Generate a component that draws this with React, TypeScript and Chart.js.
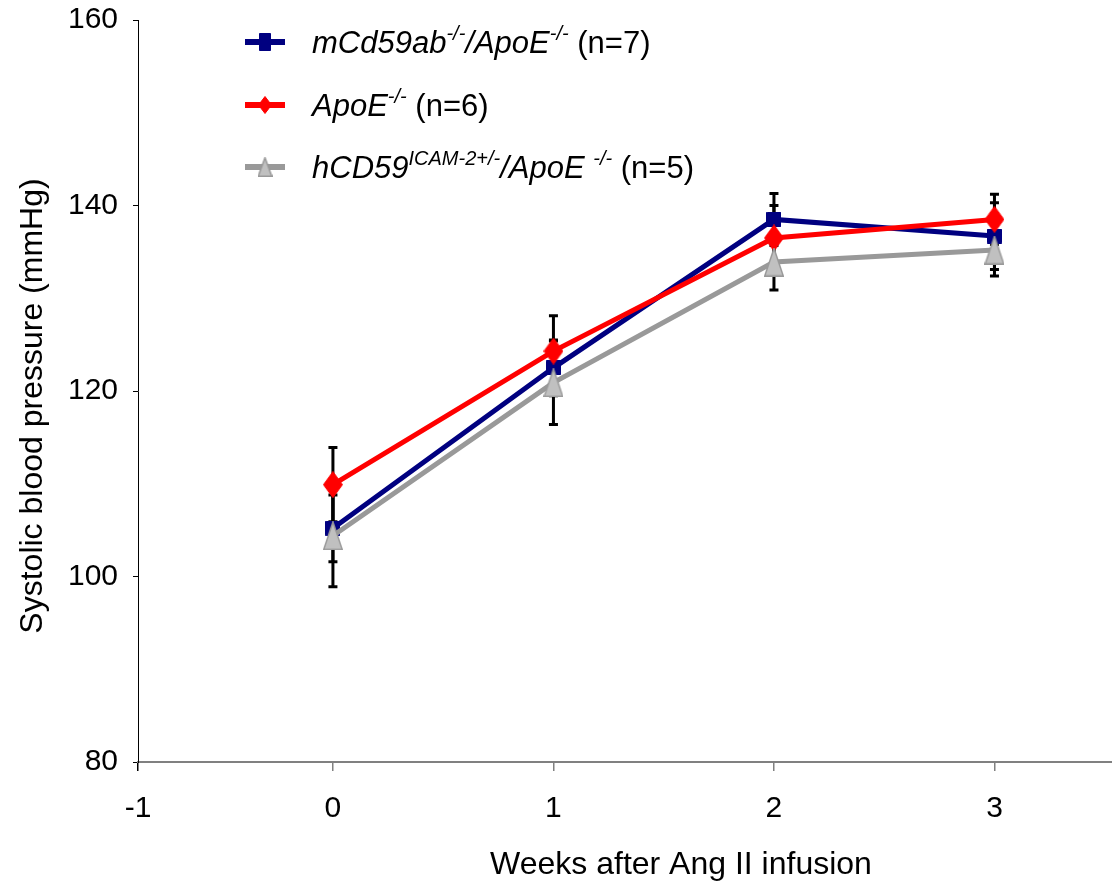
import React, { useEffect, useRef } from 'react';
import { Chart, registerables } from 'chart.js';

Chart.register(...registerables);

// ---------- data ----------
const weeks = [0, 1, 2, 3];
const xTickLabels = ['-1', '0', '1', '2', '3'];
const yTicks = [80, 100, 120, 140, 160];

const mCd59Values = [105.2, 122.5, 138.5, 136.7];
const mCd59Errors = [3.6, 3.0, 2.8, 3.6];
const apoeValues = [109.9, 124.3, 136.5, 138.5];
const apoeErrors = [4.0, 3.8, 3.5, 2.7];
const hCd59Values = [104.4, 120.9, 133.9, 135.2];
const hCd59Errors = [5.5, 4.5, 3.0, 2.8];

const xTitle = 'Weeks after Ang II infusion';
const yTitle = 'Systolic blood pressure (mmHg)';

type Seg = { t: string; i?: boolean; s?: boolean };
const legendMCd59: Seg[] = [
  { t: 'mCd59ab', i: true },
  { t: '-/-', i: true, s: true },
  { t: '/ApoE', i: true },
  { t: '-/-', i: true, s: true },
  { t: ' (n=7)' },
];
const legendApoE: Seg[] = [
  { t: 'ApoE', i: true },
  { t: '-/-', i: true, s: true },
  { t: ' (n=6)' },
];
const legendHCd59: Seg[] = [
  { t: 'hCD59', i: true },
  { t: 'ICAM-2+/-', i: true, s: true },
  { t: '/ApoE ', i: true },
  { t: '-/-', i: true, s: true },
  { t: ' (n=5)' },
];

const X_MIN = -0.884;
const X_MAX = 3.533;
const FONT = '"Liberation Sans", Arial, Helvetica, sans-serif';

const BLUE = '#000080';
const RED = '#FF0000';
const GRAY = '#999999';
const GRAY_FILL = '#C0C0C0';

function makeMarker(shape: 'square' | 'diamond' | 'triangle', w: number, h: number, fill: string, stroke: string, lw: number) {
  const c = document.createElement('canvas');
  c.width = w;
  c.height = h;
  const ctx = c.getContext('2d')!;
  ctx.fillStyle = fill;
  ctx.strokeStyle = stroke;
  ctx.lineWidth = lw;
  const m = lw / 2;
  ctx.beginPath();
  if (shape === 'square') {
    ctx.rect(m, m, w - 2 * m, h - 2 * m);
  } else if (shape === 'diamond') {
    ctx.moveTo(w / 2, m);
    ctx.lineTo(w - m, h / 2);
    ctx.lineTo(w / 2, h - m);
    ctx.lineTo(m, h / 2);
    ctx.closePath();
  } else {
    ctx.moveTo(w / 2, m);
    ctx.lineTo(w - m, h - m);
    ctx.lineTo(m, h - m);
    ctx.closePath();
  }
  ctx.fill();
  ctx.stroke();
  return c;
}

function zeroPadding(scale: any) {
  scale.paddingTop = 0;
  scale.paddingBottom = 0;
  scale.paddingLeft = 0;
  scale.paddingRight = 0;
}

export default function App() {
  const ref = useRef<HTMLCanvasElement | null>(null);

  useEffect(() => {
    if (!ref.current) return;

    const sq = makeMarker('square', 15, 15, BLUE, BLUE, 1);
    const di = makeMarker('diamond', 20, 27, RED, RED, 1);
    const tr = makeMarker('triangle', 20, 29, GRAY_FILL, GRAY, 1.5);
    const sqL = makeMarker('square', 12, 18, BLUE, BLUE, 1);
    const diL = makeMarker('diamond', 14, 18, RED, RED, 1);
    const trL = makeMarker('triangle', 15, 20, GRAY_FILL, GRAY, 1.5);

    const errorSets = [mCd59Errors, apoeErrors, hCd59Errors];
    const valueSets = [mCd59Values, apoeValues, hCd59Values];

    const errorBars = {
      id: 'errorBars',
      beforeDatasetsDraw(chart: any) {
        const { ctx, scales } = chart;
        const xs = scales.x;
        const ys = scales.y;
        ctx.save();
        ctx.strokeStyle = '#000000';
        ctx.lineWidth = 3;
        valueSets.forEach((vals, d) => {
          vals.forEach((v, i) => {
            const px = xs.getPixelForValue(weeks[i]);
            const top = ys.getPixelForValue(v + errorSets[d][i]);
            const bot = ys.getPixelForValue(v - errorSets[d][i]);
            ctx.beginPath();
            ctx.moveTo(px, top);
            ctx.lineTo(px, bot);
            ctx.moveTo(px - 4.5, top);
            ctx.lineTo(px + 4.5, top);
            ctx.moveTo(px - 4.5, bot);
            ctx.lineTo(px + 4.5, bot);
            ctx.stroke();
          });
        });
        ctx.restore();
      },
    };

    const legendRows = [legendMCd59, legendApoE, legendHCd59];
    const legendColors = [BLUE, RED, GRAY];
    const legendMarkers = [sqL, diL, trL];
    const legendY = [42, 105, 167];

    const customLegend = {
      id: 'customLegend',
      afterDraw(chart: any) {
        const ctx = chart.ctx;
        ctx.save();
        // axis titles
        ctx.fillStyle = '#000000';
        ctx.font = `32px ${FONT}`;
        ctx.textAlign = 'center';
        ctx.textBaseline = 'middle';
        ctx.fillText(xTitle, 681, 865);
        ctx.save();
        ctx.translate(33, 406);
        ctx.rotate(-Math.PI / 2);
        ctx.fillText(yTitle, 0, 0);
        ctx.restore();

        legendRows.forEach((segs, r) => {
          const y = legendY[r];
          ctx.strokeStyle = legendColors[r];
          ctx.lineWidth = 6;
          ctx.beginPath();
          ctx.moveTo(245, y);
          ctx.lineTo(285, y);
          ctx.stroke();
          const mk = legendMarkers[r];
          ctx.drawImage(mk, 265 - mk.width / 2, y - mk.height / 2);
          let x = 312;
          ctx.fillStyle = '#000000';
          ctx.textBaseline = 'alphabetic';
          ctx.textAlign = 'left';
          segs.forEach((s) => {
            const size = s.s ? 20 : 31;
            ctx.font = `${s.i ? 'italic ' : ''}${size}px ${FONT}`;
            const base = s.s ? y - 2 : y + 11;
            ctx.fillText(s.t, x, base);
            x += ctx.measureText(s.t).width;
          });
        });
        ctx.restore();
      },
    };

    const chart = new Chart(ref.current, {
      type: 'line',
      data: {
        datasets: [
          {
            label: 'mCd59ab-/-/ApoE-/- (n=7)',
            data: weeks.map((w, i) => ({ x: w, y: mCd59Values[i] })),
            borderColor: BLUE,
            backgroundColor: BLUE,
            borderWidth: 5,
            pointStyle: sq as any,
            pointRadius: 8,
            order: 2,
            clip: false,
          },
          {
            label: 'ApoE-/- (n=6)',
            data: weeks.map((w, i) => ({ x: w, y: apoeValues[i] })),
            borderColor: RED,
            backgroundColor: RED,
            borderWidth: 5,
            pointStyle: di as any,
            pointRadius: 10,
            order: 1,
            clip: false,
          },
          {
            label: 'hCD59ICAM-2+/-/ApoE -/- (n=5)',
            data: weeks.map((w, i) => ({ x: w, y: hCd59Values[i] })),
            borderColor: GRAY,
            backgroundColor: GRAY_FILL,
            borderWidth: 5,
            pointStyle: tr as any,
            pointRadius: 10,
            order: 0,
            clip: false,
          },
        ],
      },
      options: {
        responsive: false,
        animation: false,
        font: { family: FONT },
        layout: { autoPadding: false, padding: { top: 20, left: 0, right: 0, bottom: 0 } },
        plugins: {
          legend: { display: false },
          tooltip: { enabled: false },
        },
        scales: {
          x: {
            type: 'linear',
            min: X_MIN,
            max: X_MAX,
            afterBuildTicks(scale: any) {
              scale.ticks = [X_MIN, ...weeks].map((v) => ({ value: v }));
            },
            afterFit(scale: any) {
              scale.height = 125;
              zeroPadding(scale);
            },
            ticks: {
              callback: (_v: any, idx: number) => xTickLabels[idx],
              color: '#000000',
              font: { size: 30, family: FONT, lineHeight: 1.2 },
              padding: 20,
              maxRotation: 0,
              autoSkip: false,
            },
            grid: {
              drawOnChartArea: false,
              drawTicks: true,
              tickLength: 9,
              color: (c: any) => (c.index === 0 ? '#000000' : '#808080'),
              lineWidth: 1.5,
            },
            border: { color: '#808080', width: 2 },
            title: { display: false },
          },
          y: {
            type: 'linear',
            min: 80,
            max: 160,
            afterBuildTicks(scale: any) {
              scale.ticks = yTicks.map((v) => ({ value: v }));
            },
            afterFit(scale: any) {
              scale.width = 138;
              zeroPadding(scale);
            },
            ticks: {
              color: '#000000',
              font: { size: 30, family: FONT, lineHeight: 1.2 },
              padding: 15,
            },
            grid: {
              drawOnChartArea: false,
              drawTicks: true,
              tickLength: 5,
              color: '#000000',
              lineWidth: 1,
            },
            border: { color: '#000000', width: 1 },
            title: { display: false },
          },
        },
      } as any,
      plugins: [errorBars, customLegend],
    });

    return () => chart.destroy();
  }, []);

  return (
    <div style={{ position: 'absolute', left: 0, top: 0, width: 1112, height: 887, background: '#ffffff' }}>
      <canvas ref={ref} width={1112} height={887} style={{ display: 'block', width: 1112, height: 887 }} />
    </div>
  );
}
